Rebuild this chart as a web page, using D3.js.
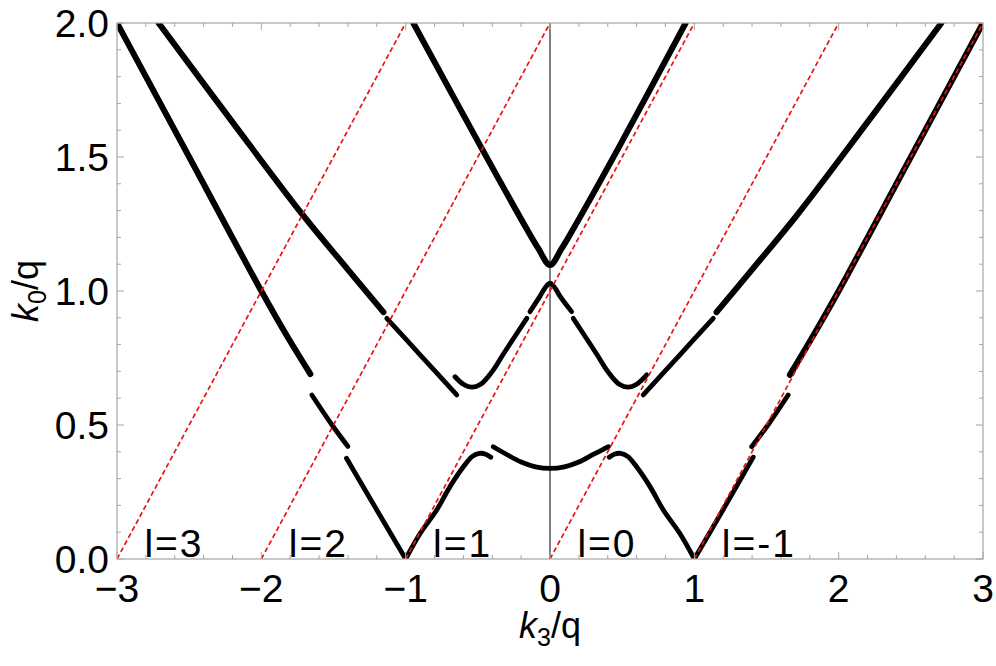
<!DOCTYPE html>
<html>
<head>
<meta charset="utf-8">
<script src="https://cdn.jsdelivr.net/npm/d3@7"></script>
<style>
  body { margin: 0; background: #fff; }
  text { font-family: "Liberation Sans", Arial, sans-serif; }
</style>
</head>
<body>
<script>
// band branches, [k3/q, k0/q]
const lowOuterLeft = [[-3.0, 2.0], [-2.5, 1.5], [-2.0, 1.0], [-1.82, 0.83], [-1.66, 0.69]];
const lowGapLeft1 = [[-1.65, 0.612], [-1.51, 0.5], [-1.40, 0.42]];
const lowGapLeft2 = [[-1.41, 0.376], [-1.2, 0.183], [-1.0, 0.0]];
const lowHumpLeft = [[-1.0, 0.0], [-0.9, 0.095], [-0.785, 0.183], [-0.693, 0.27], [-0.6, 0.344], [-0.54, 0.382], [-0.49, 0.394], [-0.45, 0.392], [-0.41, 0.38]];
const lowMiddle = [[-0.393, 0.419], [-0.3, 0.39], [-0.2, 0.362], [-0.1, 0.344], [0, 0.338], [0.1, 0.344], [0.2, 0.362], [0.3, 0.39], [0.404, 0.419]];
const lowHumpRight = [[0.41, 0.38], [0.45, 0.392], [0.49, 0.394], [0.54, 0.382], [0.6, 0.344], [0.693, 0.27], [0.785, 0.183], [0.9, 0.095], [1.0, 0.0]];
const lowGapRight2 = [[1.0, 0.0], [1.2, 0.185], [1.408, 0.38]];
const lowGapRight1 = [[1.397, 0.419], [1.51, 0.5], [1.65, 0.612]];
const lowOuterRight = [[1.662, 0.687], [1.82, 0.83], [2.0, 1.0], [2.5, 1.5], [3.0, 2.0]];

const midOuterLeft = [[-2.712, 2.0], [-2.2, 1.63], [-1.713, 1.284], [-1.4, 1.08], [-1.154, 0.921]];
const midInnerLeft = [[-1.131, 0.898], [-0.9, 0.762], [-0.646, 0.612]];
const midDipLeft = [[-0.658, 0.68], [-0.6, 0.652], [-0.542, 0.641], [-0.48, 0.652], [-0.4, 0.7], [-0.323, 0.765], [-0.161, 0.898]];
const midPeak = [[-0.139, 0.923], [-0.07, 0.98], [-0.03, 1.015], [0, 1.029], [0.03, 1.015], [0.07, 0.98], [0.15, 0.923]];
const midDipRight = [[0.161, 0.898], [0.323, 0.765], [0.4, 0.7], [0.48, 0.652], [0.542, 0.641], [0.6, 0.652], [0.67, 0.687]];
const midInnerRight = [[0.646, 0.612], [0.9, 0.762], [1.131, 0.898]];
const midOuterRight = [[1.154, 0.921], [1.4, 1.08], [1.713, 1.284], [2.2, 1.63], [2.712, 2.0]];

const topBand = [[-0.947, 2.0], [-0.473, 1.532], [-0.15, 1.221], [-0.08, 1.158], [0, 1.097], [0.08, 1.158], [0.15, 1.221], [0.473, 1.532], [0.94, 2.0]];

const bands = [lowOuterLeft, lowGapLeft1, lowGapLeft2, lowHumpLeft, lowMiddle, lowHumpRight,
  lowGapRight2, lowGapRight1, lowOuterRight, midOuterLeft, midInnerLeft, midDipLeft, midPeak,
  midDipRight, midInnerRight, midOuterRight, topBand];

// shifted light lines k0 = k3 + l
const lightLines = [[[-3, 0], [-1, 2]], [[-2, 0], [0, 2]], [[-1, 0], [1, 2]], [[0, 0], [2, 2]], [[1, 0], [3, 2]]];
const lineLabels = ["l=3", "l=2", "l=1", "l=0", "l=-1"];

const xTicks = [-3, -2, -1, 0, 1, 2, 3];
const yTicks = [0, 0.5, 1.0, 1.5, 2.0];

const w = 996, h = 666;
const margin = {left: 117, right: 13, top: 23, bottom: 107};
const frameColor = "#a6a6a6";

const x = d3.scaleLinear().domain([-3, 3]).range([margin.left, w - margin.right]);
const y = d3.scaleLinear().domain([0, 2]).range([h - margin.bottom, margin.top]);
const x0 = x.range()[0], x1 = x.range()[1], y0 = y.range()[0], y1 = y.range()[1];

const svg = d3.select("body").append("svg")
  .attr("width", w)
  .attr("height", h);

svg.append("defs").append("clipPath").attr("id", "plot")
  .append("rect").attr("x", x0).attr("y", y1).attr("width", x1 - x0).attr("height", y0 - y1);

const plot = svg.append("g").attr("clip-path", "url(#plot)");

// vertical axis line at k3 = 0
plot.append("line")
  .attr("x1", x(0)).attr("x2", x(0))
  .attr("y1", y0).attr("y2", y1)
  .attr("stroke", "#000").attr("stroke-width", 1);

const line = d3.line()
  .x(d => x(d[0]))
  .y(d => y(d[1]))
  .curve(d3.curveCatmullRom.alpha(0.5));

plot.selectAll("path.band")
  .data(bands)
  .enter()
  .append("path")
  .attr("class", "band")
  .attr("d", line)
  .attr("fill", "none")
  .attr("stroke", "#000")
  .attr("stroke-width", d => d3.max(d, p => p[1]) > 1.5 ? 6 : 4.8)
  .attr("stroke-linecap", "round");

plot.selectAll("line.light")
  .data(lightLines)
  .enter()
  .append("line")
  .attr("class", "light")
  .attr("x1", d => x(d[0][0])).attr("y1", d => y(d[0][1]))
  .attr("x2", d => x(d[1][0])).attr("y2", d => y(d[1][1]))
  .attr("stroke", "#ee1111")
  .attr("stroke-width", 1.7)
  .attr("stroke-dasharray", "5,3");

// frame
svg.append("rect")
  .attr("x", x0).attr("y", y1)
  .attr("width", x1 - x0).attr("height", y0 - y1)
  .attr("fill", "none")
  .attr("stroke", frameColor)
  .attr("stroke-width", 1.2);

// ticks on all four sides, pointing inward
const xMinor = d3.range(-3, 3.001, 0.2).filter(v => Math.abs(v - Math.round(v)) > 1e-6);
const yMinor = d3.range(0, 2.001, 0.1).filter(v => Math.abs(v * 2 - Math.round(v * 2)) > 1e-6);
const ticks = svg.append("g").attr("stroke", frameColor).attr("stroke-width", 1);

[[xTicks, 7], [xMinor, 4]].forEach(([vals, len]) => {
  ticks.selectAll(null).data(vals).enter().append("line")
    .attr("x1", d => x(d)).attr("x2", d => x(d))
    .attr("y1", y0).attr("y2", y0 - len);
  ticks.selectAll(null).data(vals).enter().append("line")
    .attr("x1", d => x(d)).attr("x2", d => x(d))
    .attr("y1", y1).attr("y2", y1 + len);
});
[[yTicks, 7], [yMinor, 4]].forEach(([vals, len]) => {
  ticks.selectAll(null).data(vals).enter().append("line")
    .attr("y1", d => y(d)).attr("y2", d => y(d))
    .attr("x1", x0).attr("x2", x0 + len);
  ticks.selectAll(null).data(vals).enter().append("line")
    .attr("y1", d => y(d)).attr("y2", d => y(d))
    .attr("x1", x1).attr("x2", x1 - len);
});

// tick labels
svg.selectAll("text.xt")
  .data(xTicks)
  .enter()
  .append("text")
  .attr("x", d => x(d))
  .attr("y", y0 + 43)
  .attr("text-anchor", "middle")
  .attr("font-size", 39)
  .text(d3.format("d"));

svg.selectAll("text.yt")
  .data(yTicks)
  .enter()
  .append("text")
  .attr("x", x0 - 8)
  .attr("y", d => y(d) + 14)
  .attr("text-anchor", "end")
  .attr("font-size", 39)
  .text(d3.format(".1f"));

// l labels near the bottom of each light line
svg.selectAll("text.ll")
  .data(lineLabels)
  .enter()
  .append("text")
  .attr("x", (d, i) => x(lightLines[i][0][0] + 0.19))
  .attr("y", y0 - 2)
  .attr("font-size", 39)
  .attr("letter-spacing", 2)
  .text(d => d);

// axis titles
const xt = svg.append("text")
  .attr("x", x(0))
  .attr("y", 638)
  .attr("text-anchor", "middle")
  .attr("font-size", 36);
xt.append("tspan").attr("font-style", "italic").text("k");
xt.append("tspan").attr("font-size", 25).attr("dy", 8).text("3");
xt.append("tspan").attr("dy", -8).text("/q");

const yt = svg.append("text")
  .attr("transform", `translate(38,${(y0 + y1) / 2}) rotate(-90)`)
  .attr("text-anchor", "middle")
  .attr("font-size", 36);
yt.append("tspan").attr("font-style", "italic").text("k");
yt.append("tspan").attr("font-size", 25).attr("dy", 8).text("0");
yt.append("tspan").attr("dy", -8).text("/q");
</script>
</body>
</html>
